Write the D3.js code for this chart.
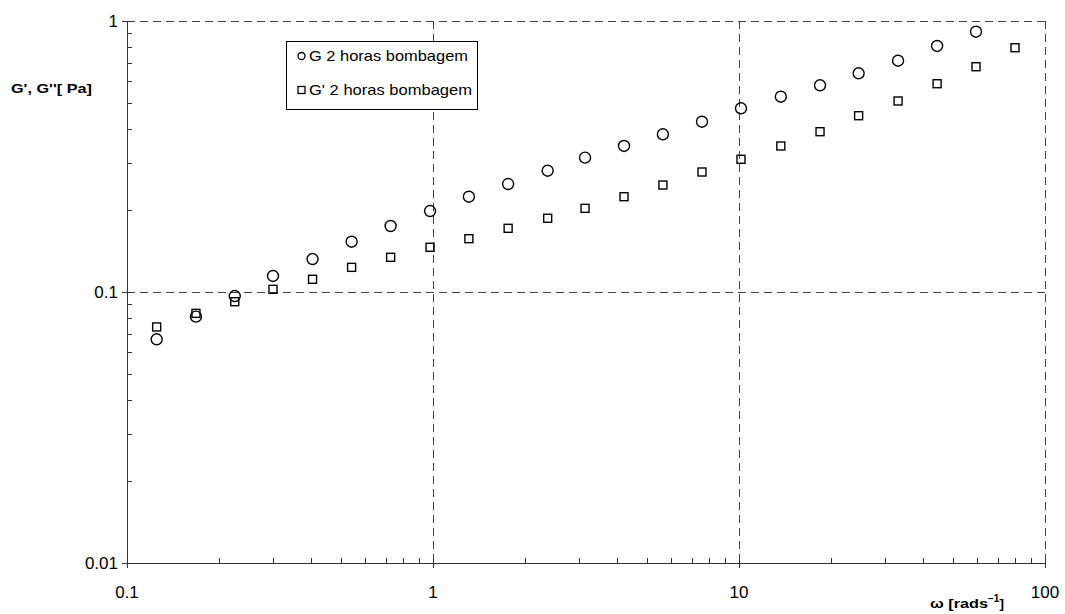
<!DOCTYPE html>
<html><head><meta charset="utf-8">
<script src="https://cdn.jsdelivr.net/npm/d3@7"></script>
<style>
html,body{margin:0;padding:0;background:#fff;}
svg{display:block;font-family:"Liberation Sans",Arial,sans-serif;}
</style></head>
<body><svg id="c" width="1065" height="614"></svg>
<script>
const omega = [0.125,0.168,0.225,0.300,0.404,0.542,0.727,0.978,1.31,1.76,2.37,3.14,4.21,5.64,7.57,10.15,13.7,18.4,24.6,33.1,44.4,59.5,79.8];
const gPrime = [0.0669,0.0811,0.0966,0.1146,0.1323,0.1533,0.1752,0.1990,0.2247,0.2503,0.2803,0.3131,0.3458,0.3818,0.4250,0.4762,0.5256,0.5790,0.6412,0.7137,0.8088,0.9132];
const gDouble = [0.0743,0.0834,0.0921,0.1023,0.1114,0.1233,0.1343,0.1462,0.1573,0.1718,0.1871,0.2036,0.2247,0.2482,0.2772,0.3088,0.3458,0.3904,0.4472,0.5068,0.5869,0.6781,0.7968];
const xTicks = [0.1,1,10,100];
const xTickLabels = ["0.1","1","10","100"];
const yTicks = [0.01,0.1,1];
const yTickLabels = ["0.01","0.1","1"];
const legendLabels = ["G 2 horas bombagem","G' 2 horas bombagem"];
const yTitle = "G', G''[ Pa]";

const svg = d3.select("#c");
const L=127,R=1045,T=21,B=563;
const x = d3.scaleLog().domain([0.1,100]).range([L,R]);
const y = d3.scaleLog().domain([0.01,1]).range([B,T]);

// grid
const grid = svg.append("g").attr("stroke","#444").attr("stroke-width",1).attr("stroke-dasharray","8,5");
xTicks.slice(1).forEach(v=>grid.append("line").attr("x1",x(v)+0.5).attr("x2",x(v)+0.5).attr("y1",T).attr("y2",B));
yTicks.slice(1).forEach(v=>grid.append("line").attr("x1",L).attr("x2",R).attr("y1",y(v)+0.5).attr("y2",y(v)+0.5));

// minor ticks
const minors=[];
for(let d=-1; d<2; d++) for(let k=2;k<10;k++) minors.push(k*Math.pow(10,d));
const yMinors=[];
for(let d=-2; d<0; d++) for(let k=2;k<10;k++) yMinors.push(k*Math.pow(10,d));

const ax = svg.append("g").attr("stroke","#333").attr("stroke-width",1);
minors.forEach(v=>ax.append("line").attr("x1",Math.round(x(v))+0.5).attr("x2",Math.round(x(v))+0.5).attr("y1",B-5).attr("y2",B));
xTicks.forEach(v=>ax.append("line").attr("x1",Math.round(x(v))+0.5).attr("x2",Math.round(x(v))+0.5).attr("y1",B-5).attr("y2",B+5));
yMinors.forEach(v=>ax.append("line").attr("x1",L).attr("x2",L+5).attr("y1",Math.round(y(v))+0.5).attr("y2",Math.round(y(v))+0.5));
yTicks.forEach(v=>ax.append("line").attr("x1",L-5).attr("x2",L+5).attr("y1",Math.round(y(v))+0.5).attr("y2",Math.round(y(v))+0.5));
ax.append("line").attr("x1",L+0.5).attr("x2",L+0.5).attr("y1",T).attr("y2",B+1);
ax.append("line").attr("x1",L).attr("x2",R+1).attr("y1",B+0.5).attr("y2",B+0.5);

// tick labels
svg.append("g").selectAll("text").data(xTicks).join("text")
  .attr("x",d=>x(d)).attr("y",B+35).attr("text-anchor","middle")
  .attr("font-size",17).attr("fill","#000").text((d,i)=>xTickLabels[i]);
svg.append("g").selectAll("text").data(yTicks).join("text")
  .attr("x",L-9).attr("y",d=>y(d)+6).attr("text-anchor","end")
  .attr("font-size",17).attr("fill","#000").text((d,i)=>yTickLabels[i]);

// axis titles
svg.append("text").attr("x",11).attr("y",93).attr("font-size",13.5).attr("font-weight","bold")
  .attr("textLength",81).attr("lengthAdjust","spacingAndGlyphs").text(yTitle);
const xt = svg.append("text").attr("x",930).attr("y",608).attr("font-size",13.5).attr("font-weight","bold");
xt.append("tspan").attr("textLength",58).attr("lengthAdjust","spacingAndGlyphs").text("ω [rads");
xt.append("tspan").attr("dy",-6).attr("font-size",10).text("−1");
xt.append("tspan").attr("dy",6).text("]");

// data
svg.append("g").selectAll("circle").data(gPrime).join("circle")
  .attr("cx",(d,i)=>x(omega[i])).attr("cy",d=>y(d)).attr("r",5.5)
  .attr("fill","none").attr("stroke","#000").attr("stroke-width",1.4);
const s=8;
svg.append("g").selectAll("rect").data(gDouble).join("rect")
  .attr("x",(d,i)=>x(omega[i])-s/2).attr("y",d=>y(d)-s/2).attr("width",s).attr("height",s)
  .attr("fill","none").attr("stroke","#000").attr("stroke-width",1.4);

// legend
const lg = svg.append("g");
lg.append("rect").attr("x",286.5).attr("y",41.5).attr("width",191).attr("height",68).attr("fill","#fff").attr("stroke","#000").attr("stroke-width",1);
lg.append("circle").attr("cx",301.5).attr("cy",56).attr("r",3.5).attr("fill","none").attr("stroke","#000").attr("stroke-width",1.3);
lg.append("rect").attr("x",298).attr("y",86.5).attr("width",7).attr("height",7).attr("fill","none").attr("stroke","#000").attr("stroke-width",1.3);
const lens=[159,163];
legendLabels.forEach((t,i)=>lg.append("text").attr("x",309).attr("y",61+i*34).attr("font-size",14.5)
  .attr("textLength",lens[i]).attr("lengthAdjust","spacingAndGlyphs").text(t));
</script></body></html>
